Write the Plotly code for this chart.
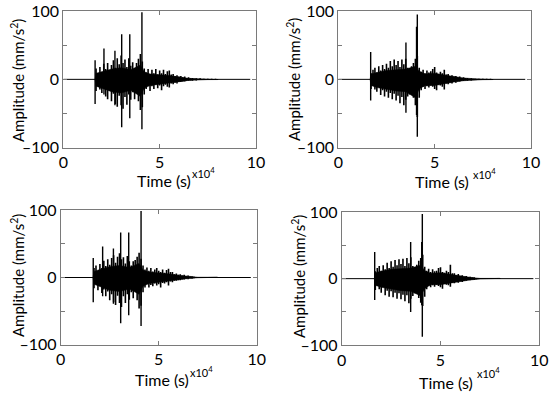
import plotly.graph_objects as go

# ---------------- data (time in 1e4 s, amplitude in mm/s^2) ----------------
# peak amplitudes of the oscillations, sampled every 0.1e4 s
T = [1.7, 1.8, 1.9, 2.0, 2.1, 2.2, 2.3, 2.4, 2.5, 2.6, 2.7, 2.8, 2.9, 3.0, 3.1, 3.2,
     3.3, 3.4, 3.5, 3.6, 3.7, 3.8, 3.9, 4.0, 4.1, 4.2, 4.3, 4.4, 4.5, 4.6, 4.7, 4.8,
     4.9, 5.0, 5.1, 5.2, 5.3, 5.4, 5.5, 5.6, 5.7, 5.8, 5.9, 6.0, 6.1, 6.2, 6.3, 6.4,
     6.5, 6.6, 6.7, 6.8, 6.9, 7.0, 7.1, 7.2, 7.3, 7.4, 7.5, 7.6, 7.7, 7.8, 7.9, 8.0]
# solid core of the record (dense oscillation band)
TC = [1.65, 1.7, 2.0, 2.5, 3.0, 3.5, 4.0, 4.2, 4.5, 5.0, 5.5, 6.0, 6.5, 7.0, 7.5, 8.0]

up1 = [16, 9, 18, 11, 23, 15, 24, 13, 21, 28, 17, 31, 22, 35, 24, 29,
       18, 31, 20, 25, 14, 24, 30, 37, 26, 16, 10, 15, 8, 14, 9, 15,
       7, 13, 9, 14, 8, 12, 13, 7, 8, 5, 6, 4, 5, 3, 4, 2,
       3, 1.5, 2, 1, 1.5, 0.5, 1.5, 0.5, 1, 0.5, 1, 0.5, 1, 0.5, 1, 0.5]
dn1 = [-17, -10, -15, -20, -12, -25, -29, -16, -32, -21, -36, -40, -24, -38, -43, -26,
       -37, -22, -30, -19, -29, -17, -32, -45, -41, -22, -14, -9, -17, -10, -14, -8,
       -13, -9, -16, -10, -8, -11, -12, -6, -7, -5, -6, -4, -4, -3, -3, -2,
       -2, -1.5, -2, -1, -1.5, -0.5, -1, -0.5, -1, -0.5, -1, -0.5, -1, -0.5, -1, -0.5]
core1_up = [0, 9, 11, 15, 17, 14, 21, 11, 8, 7, 5.5, 3.5, 1.5, 0.8, 0.4, 0.3]
core1_dn = [0, -10, -13, -18, -20, -16, -25, -13, -9, -8, -5.5, -3.5, -1.5, -0.8, -0.4, -0.3]
spk1_t = [1.65, 2.11, 2.68, 3.03, 3.45, 4.08]
spk1_up = [28, 45, 42, 66, 66, 98]
spk1_dn = [-36, -22, -38, -70, -57, -73]

up2 = [9, 14, 17, 10, 19, 13, 21, 15, 23, 17, 27, 19, 29, 21, 27, 18,
       29, 22, 30, 17, 14, 19, 24, 30, 34, 17, 11, 14, 9, 13, 10, 12,
       15, 18, 10, 8, 11, 9, 14, 7, 8, 5, 6, 4, 5, 3, 4, 2,
       3, 2, 2, 1, 1.5, 1, 1, 0.5, 1, 0.5, 1, 0.5, 1, 0.5, 1, 0.5]
dn2 = [-14, -9, -15, -18, -11, -23, -16, -25, -18, -27, -20, -29, -21, -31, -24, -35,
       -26, -38, -30, -25, -22, -16, -27, -38, -55, -27, -16, -11, -14, -10, -12, -9,
       -11, -14, -16, -8, -9, -11, -15, -6, -7, -5, -6, -4, -5, -3, -3, -2,
       -2.5, -1.5, -2, -1, -1.5, -0.5, -1, -0.5, -1, -0.5, -1, -0.5, -1, -0.5, -1, -0.5]
core2_up = [0, 8, 10, 13, 14, 15, 19, 12, 8, 9, 6.5, 4, 2, 1, 0.5, 0.3]
core2_dn = [0, -9, -12, -15, -17, -18, -27, -14, -9, -9, -6.5, -4, -2, -1, -0.5, -0.3]
spk2_t = [1.68, 3.51, 4.06, 4.10]
spk2_up = [40, 54, 77, 95]
spk2_dn = [-31, -49, -52, -84]

up3 = [14, 18, 10, 20, 14, 25, 17, 27, 19, 29, 33, 22, 31, 36, 27, 30,
       21, 32, 24, 18, 24, 26, 31, 37, 28, 18, 12, 15, 10, 14, 9, 12,
       14, 10, 8, 12, 7, 11, 13, 8, 8, 5, 6, 4, 5, 3, 4, 2,
       3, 2, 2, 1, 0.5, 0.5, 0.5, 0.5, 0.5, 0.5, 0.5, 0.5, 0.5, 0.5, 0.5, 0.5]
dn3 = [-16, -10, -19, -13, -23, -18, -28, -21, -34, -25, -37, -41, -27, -38, -44, -28,
       -38, -25, -33, -22, -31, -19, -34, -46, -42, -22, -15, -10, -15, -11, -13, -9,
       -12, -10, -15, -8, -9, -7, -12, -6, -7, -5, -5, -4, -4, -3, -3, -2,
       -2.5, -1.5, -2, -1, -0.5, -0.5, -0.5, -0.5, -0.5, -0.5, -0.5, -0.5, -0.5, -0.5, -0.5, -0.5]
core3_up = [0, 9, 12, 16, 18, 15, 21, 11, 8, 7, 5.5, 3.5, 1.5, 0.4, 0.4, 0.4]
core3_dn = [0, -10, -14, -19, -21, -17, -25, -13, -9, -8, -5.5, -3.5, -1.5, -0.4, -0.4, -0.4]
spk3_t = [1.66, 2.14, 2.69, 3.06, 3.47, 4.10]
spk3_up = [29, 46, 43, 67, 67, 99]
spk3_dn = [-37, -28, -39, -68, -56, -72]

up4 = [11, 16, 19, 12, 20, 14, 24, 16, 26, 18, 28, 20, 29, 22, 30, 19,
       31, 23, 32, 19, 15, 21, 27, 31, 36, 18, 12, 15, 10, 14, 11, 12,
       16, 17, 10, 9, 12, 10, 21, 8, 8, 5, 7, 4, 5, 3, 4, 2,
       3, 2, 2, 1, 0.5, 0.5, 0.5, 0.5, 0.5, 0.5, 0.5, 0.5, 0.5, 0.5, 0.5, 0.5]
dn4 = [-17, -11, -16, -21, -13, -25, -18, -27, -19, -28, -21, -30, -22, -31, -24, -34,
       -25, -37, -30, -26, -22, -17, -29, -36, -41, -27, -16, -11, -13, -10, -12, -9,
       -11, -13, -15, -8, -9, -10, -12, -6, -7, -5, -6, -4, -5, -3, -3, -2,
       -2.5, -1.5, -2, -1, -0.5, -0.5, -0.5, -0.5, -0.5, -0.5, -0.5, -0.5, -0.5, -0.5, -0.5, -0.5]
core4_up = [0, 9, 11, 14, 15, 16, 20, 12, 8, 9, 6.5, 4, 2, 0.4, 0.4, 0.4]
core4_dn = [0, -10, -13, -16, -18, -19, -26, -15, -9, -9, -6.5, -4, -2, -0.4, -0.4, -0.4]
spk4_t = [1.67, 3.49, 4.05, 4.08]
spk4_up = [40, 55, 55, 97]
spk4_dn = [-32, -50, -40, -87]

x_ticks = [0, 5, 10]
x_ticklabels = ["0", "5", "10"]
y_ticks = [-100, 0, 100]
y_ticklabels = ["\u2013100", "0", "100"]
y_minor_ticks = [-50, 50]
x_title = "Time (s)"
x_mult = "x10<sup>4</sup>"
y_title = "Amplitude (mm/s<sup>2</sup>)"
T_START, T_END = 0.0, 9.7

# ---------------- layout (pixel boxes) ----------------
W, H = 550, 394
boxes = [(63.3, 11, 256, 147.7), (338.3, 11, 531, 147.7),
         (60.7, 210.3, 256.7, 344.7), (341.7, 212, 539.3, 345.3)]
ytitle_pos = [(17, 81), (294, 80), (17, 276), (298, 277)]
xtitle_pos = [(163.5, 180), (441.7, 182), (161.7, 379), (446, 382)]
xmult_pos = [(190, 172), (471, 173), (188, 371), (475, 372)]

FONT = "Lato, Open Sans, sans-serif"
AXC = "#7a7a7a"

panels = [(up1, dn1, core1_up, core1_dn, spk1_t, spk1_up, spk1_dn),
          (up2, dn2, core2_up, core2_dn, spk2_t, spk2_up, spk2_dn),
          (up3, dn3, core3_up, core3_dn, spk3_t, spk3_up, spk3_dn),
          (up4, dn4, core4_up, core4_dn, spk4_t, spk4_up, spk4_dn)]


def strokes(ts, tops, bots):
    xs, ys = [], []
    for t, a, b in zip(ts, tops, bots):
        xs += [t, t, None]
        ys += [a, b, None]
    return xs, ys


fig = go.Figure()
annotations = []
layout = {}
for i, ((up, dn, cu, cd, st, su, sd), box) in enumerate(zip(panels, boxes)):
    n = "" if i == 0 else str(i + 1)
    ax = dict(xaxis="x" + n, yaxis="y" + n, hoverinfo="skip", showlegend=False)
    # zero baseline over the whole record
    fig.add_trace(go.Scatter(x=[T_START, T_END], y=[0, 0], mode="lines",
                             line=dict(color="black", width=1), **ax))
    # solid core band
    fig.add_trace(go.Scatter(x=TC + TC[::-1], y=cu + cd[::-1], mode="lines", fill="toself",
                             fillcolor="black", line=dict(color="black", width=0.5), **ax))
    # oscillation peaks
    ox, oy = strokes(T, up, dn)
    fig.add_trace(go.Scatter(x=ox, y=oy, mode="lines",
                             line=dict(color="black", width=1.6), **ax))
    # isolated large spikes
    sx, sy = strokes(st, su, sd)
    fig.add_trace(go.Scatter(x=sx, y=sy, mode="lines",
                             line=dict(color="black", width=1.4), **ax))

    x0, y0, x1, y1 = box
    common = dict(ticks="inside", ticklen=4, tickcolor=AXC, showline=True,
                  linecolor=AXC, linewidth=1, mirror="ticks", showgrid=False,
                  zeroline=False, fixedrange=True, automargin=False,
                  tickfont=dict(family=FONT, size=16, color="black"))
    layout["xaxis" + n] = dict(domain=[x0 / W, x1 / W], range=[0, 10], anchor="y" + n,
                               tickvals=x_ticks, ticktext=x_ticklabels, **common)
    layout["yaxis" + n] = dict(domain=[1 - y1 / H, 1 - y0 / H], range=[-100, 100],
                               anchor="x" + n, tickvals=y_ticks, ticktext=y_ticklabels,
                               minor=dict(tickvals=y_minor_ticks, ticks="inside", ticklen=4,
                                          tickcolor=AXC, showgrid=False),
                               **common)
    yx, yy = ytitle_pos[i]
    annotations.append(dict(text=y_title, x=yx / W, y=1 - yy / H, xref="paper", yref="paper",
                            showarrow=False, textangle=-90, xanchor="center", yanchor="middle",
                            font=dict(family=FONT, size=15, color="black")))
    tx, ty = xtitle_pos[i]
    annotations.append(dict(text=x_title, x=tx / W, y=1 - ty / H, xref="paper", yref="paper",
                            showarrow=False, xanchor="center", yanchor="middle",
                            font=dict(family=FONT, size=16, color="black")))
    mx, my = xmult_pos[i]
    annotations.append(dict(text=x_mult, x=mx / W, y=1 - my / H, xref="paper", yref="paper",
                            showarrow=False, xanchor="left", yanchor="middle",
                            font=dict(family=FONT, size=11, color="black")))

fig.update_layout(width=W, height=H, margin=dict(l=0, r=0, t=0, b=0),
                  paper_bgcolor="white", plot_bgcolor="white",
                  annotations=annotations, **layout)
fig.write_html("out.html", config={"displayModeBar": False},
               post_script="document.body.style.margin='0';document.body.style.overflow='hidden';")
